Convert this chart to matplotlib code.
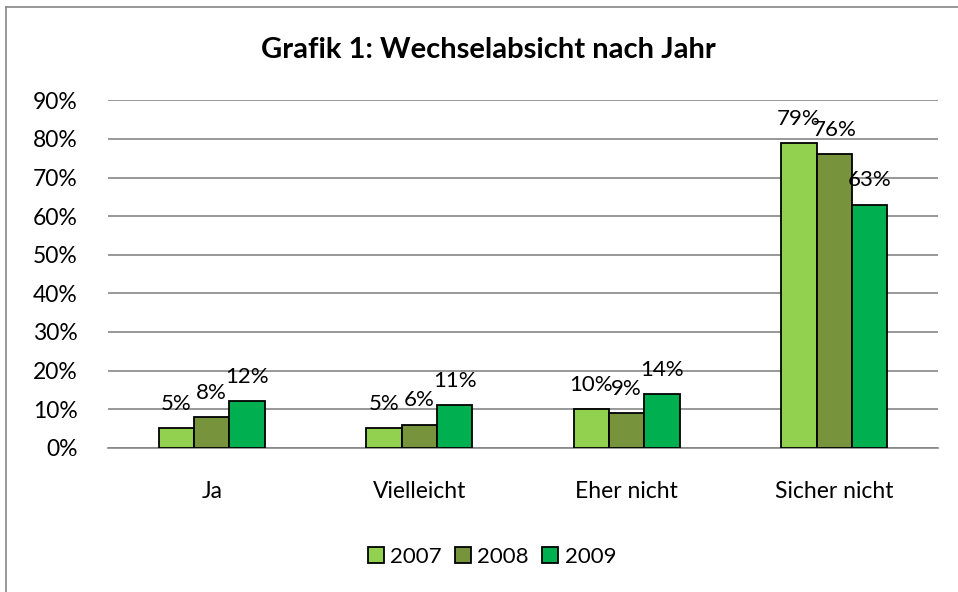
import matplotlib
matplotlib.use("Agg")
import matplotlib.pyplot as plt
from matplotlib.lines import Line2D
from matplotlib.ticker import FuncFormatter
import numpy as np

categories = ["Ja", "Vielleicht", "Eher nicht", "Sicher nicht"]
years = ["2007", "2008", "2009"]
v2007 = [5, 5, 10, 79]
v2008 = [8, 6, 9, 76]
v2009 = [12, 11, 14, 63]
colors = ["#92D050", "#77933C", "#00B050"]
title = "Grafik 1: Wechselabsicht nach Jahr"

plt.rcParams['font.family'] = ['Lato', 'DejaVu Sans']

W, H = 958, 592
fig = plt.figure(figsize=(W / 100, H / 100), dpi=100)
ax = fig.add_axes([108 / W, 1 - 447.7 / H, (938 - 108) / W, (447.7 - 100.3) / H])

x = np.arange(len(categories))
bw = 0.171
series = [v2007, v2008, v2009]
for i, (vals, c, yr) in enumerate(zip(series, colors, years)):
    pos = x + (i - 1) * bw
    ax.bar(pos, vals, width=bw, color=c, edgecolor="black", linewidth=1.3, label=yr, zorder=3)
    for px, v in zip(pos, vals):
        ax.annotate(f"{v}%", (px, v), xytext=(0, 13), textcoords="offset points",
                    ha="center", va="baseline", fontsize=16, color="black", zorder=4)

ax.set_xlim(-0.5, len(categories) - 0.5)
ax.set_ylim(0, 90)
ax.set_yticks(np.arange(0, 91, 10))
ax.yaxis.set_major_formatter(FuncFormatter(lambda v, p: f"{int(v)}%"))
ax.set_xticks(x)
ax.set_xticklabels(categories)
ax.tick_params(axis="both", length=0, labelsize=16.5, colors="black")
ax.tick_params(axis="y", pad=22)
ax.tick_params(axis="x", pad=24)
ax.grid(axis="y", color="#868686", linewidth=1.2, zorder=0)
for s in ["left", "right", "top"]:
    ax.spines[s].set_visible(False)
ax.spines["bottom"].set_color("#868686")
ax.spines["bottom"].set_linewidth(1.2)

fig.text(488 / W, 1 - 50 / H, title, ha="center", va="center", fontsize=21, fontweight="bold")

leg = fig.legend(loc="center", bbox_to_anchor=(492 / W, 1 - 557 / H), ncol=3, frameon=False,
                 fontsize=16, handlelength=0.7, handleheight=0.7, handletextpad=0.3,
                 columnspacing=0.6)

# chart border
bc = "#868686"
fig.add_artist(Line2D([6 / W, 6 / W], [0, 1 - 7 / H], color=bc, linewidth=1.2, transform=fig.transFigure))
fig.add_artist(Line2D([6 / W, 1], [1 - 7 / H, 1 - 7 / H], color=bc, linewidth=1.2, transform=fig.transFigure))

fig.savefig("out.png", dpi=100)
